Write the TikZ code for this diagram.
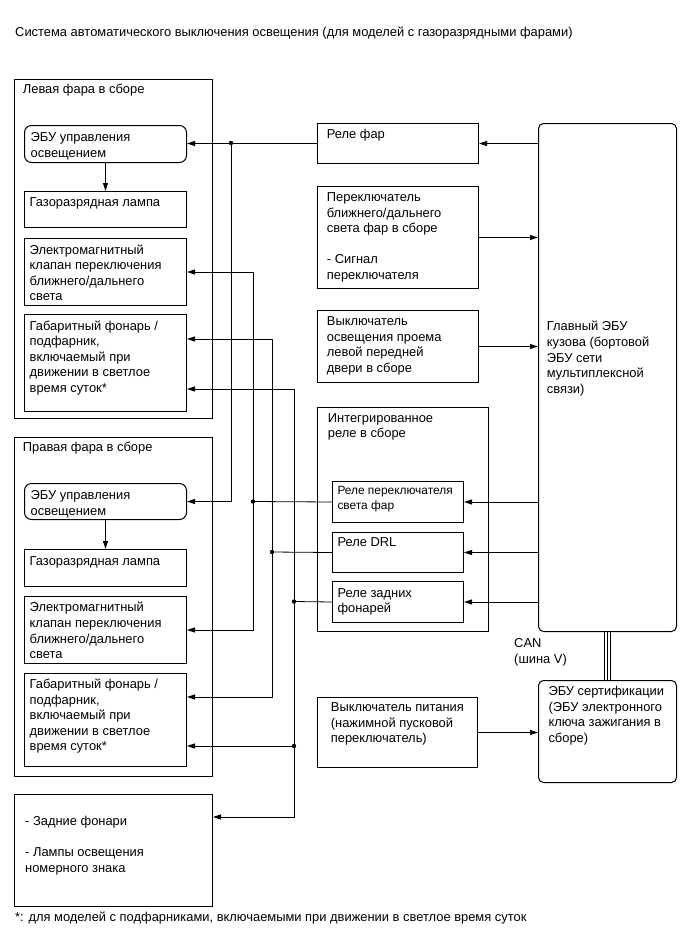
\documentclass[tikz,border=0pt]{standalone}
\usepackage{fontspec}
\setmainfont{Liberation Sans}
\usetikzlibrary{arrows.meta}
\newcommand\myfs{\fontsize{12.9}{15.6}\selectfont}
\newcommand\myfsm{\fontsize{11.9}{15.5}\selectfont}
\newcommand\mkbox[6]{\node[#1, minimum width={#4-#2}, minimum height={#5-#3}] (#6) at (#2,#3) {};}
\begin{document}
\begin{tikzpicture}[x=1pt,y=-1pt,
  box/.style={draw, line width=1pt, anchor=north west, inner sep=0pt},
  rbox/.style={box, rounded corners=7pt},
  mbox/.style={box, rounded corners=5pt},
  txt/.style={anchor=north west, inner sep=0pt, align=left, font=\myfs},
  stxt/.style={anchor=north west, inner sep=0pt, align=left, font=\myfsm},
  conn/.style={line width=0.8pt},
  arr/.style={conn, -{Triangle[length=8pt,width=5pt]}},
  jdot/.style={circle, fill, inner sep=0pt, minimum size=4.4pt},
  bus/.style={line width=1.1pt}]
\useasboundingbox (0,0) rectangle (689,951);

% title
\node[txt] (title) at (15,25.4) {\strut Система автоматического выключения освещения (для моделей с газоразрядными фарами)};

% left headlamp
\mkbox{box}{14}{79}{212}{418}{lh}
\node[txt] (lh-t) at (22.7,82) {\strut Левая фара в сборе};
\mkbox{rbox}{24}{125}{186}{162}{ecuL}
\node[txt] (ecuL-t) at (30.5,130.4) {\strut ЭБУ управления\\освещением};
\mkbox{box}{24}{191}{186}{227}{lampL}
\node[txt] (lampL-t) at (29.5,195.4) {\strut Газоразрядная лампа};
\mkbox{box}{24}{238}{186}{305}{solL}
\node[txt] (solL-t) at (29.5,243) {\strut Электромагнитный\\клапан переключения\\ближнего/дальнего\\света};
\mkbox{box}{24}{314}{186}{411}{posL}
\node[txt] (posL-t) at (29.5,319) {\strut Габаритный фонарь /\\подфарник,\\включаемый при\\движении в светлое\\время суток*};

% right headlamp
\mkbox{box}{14}{437}{212}{776}{rh}
\node[txt] (rh-t) at (22.7,440.4) {\strut Правая фара в сборе};
\mkbox{rbox}{24}{483}{186}{519}{ecuR}
\node[txt] (ecuR-t) at (30.5,488.5) {\strut ЭБУ управления\\освещением};
\mkbox{box}{24}{549}{186}{586}{lampR}
\node[txt] (lampR-t) at (29.5,554) {\strut Газоразрядная лампа};
\mkbox{box}{24}{596}{186}{663}{solR}
\node[txt] (solR-t) at (29.5,600.8) {\strut Электромагнитный\\клапан переключения\\ближнего/дальнего\\света};
\mkbox{box}{24}{673}{186}{766}{posR}
\node[txt] (posR-t) at (29.5,677.4) {\strut Габаритный фонарь /\\подфарник,\\включаемый при\\движении в светлое\\время суток*};

% rear lamps
\mkbox{box}{14}{794}{212}{906}{rear}
\node[txt] (rear-t) at (25,814.4) {\strut - Задние фонари\\\strut\\- Лампы освещения\\номерного знака};

% middle column
\mkbox{box}{317}{123}{478}{163}{relay}
\node[txt] (relay-t) at (326.7,127) {\strut Реле фар};
\mkbox{box}{317}{186}{478}{288}{dimsw}
\node[txt] (dimsw-t) at (326.7,190.4) {\strut Переключатель\\ближнего/дальнего\\света фар в сборе\\\strut\\- Сигнал\\переключателя};
\mkbox{box}{317}{310}{478}{382}{door}
\node[txt] (door-t) at (326.7,314.4) {\strut Выключатель\\освещения проема\\левой передней\\двери в сборе};
\mkbox{box}{317}{407}{488}{631}{intrel}
\node[txt] (intrel-t) at (327.7,411) {\strut Интегрированное\\реле в сборе};
\mkbox{box}{332}{481}{463}{522}{hlrel}
\node[stxt] (hlrel-t) at (337.3,483.4) {\strut Реле переключателя\\света фар};
\mkbox{box}{332}{532}{463}{572}{drl}
\node[txt] (drl-t) at (337.3,535.4) {\strut Реле DRL};
\mkbox{box}{332}{581}{463}{622}{tail}
\node[txt] (tail-t) at (337.3,586) {\strut Реле задних\\фонарей};
\mkbox{box}{317}{697}{477}{767}{pwr}
\node[txt] (pwr-t) at (330.7,700.4) {\strut Выключатель питания\\(нажимной пусковой\\переключатель)};

% right column
\mkbox{mbox}{538}{123}{676}{631}{main}
\node[txt] (main-t) at (546.7,319.8) {\strut Главный ЭБУ\\кузова (бортовой\\ЭБУ сети\\мультиплексной\\связи)};
\mkbox{mbox}{538}{680}{676}{782}{cert}
\node[txt] (cert-t) at (548.3,684.4) {\strut ЭБУ сертификации\\(ЭБУ электронного\\ключа зажигания в\\сборе)};
\node[txt] (can-t) at (514,636.4) {\strut CAN\\(шина V)};

% footnote
\node[txt] (foot) at (15,910.8) {\strut*: для моделей с подфарниками, включаемыми при движении в светлое время суток};

% CAN bus
\draw[bus] (main.south) -- (main.south |- cert.north);
\draw[bus] ([xshift=-3pt]main.south) -- ([xshift=-3pt]main.south |- cert.north);
\draw[bus] ([xshift=3pt]main.south) -- ([xshift=3pt]main.south |- cert.north);

% internal arrows
\draw[arr] (ecuL.south) -- (lampL.north);
\draw[arr] (ecuR.south) -- (lampR.north);

% main ECU connections
\draw[arr] (main.west |- relay.east) -- (relay.east);
\draw[arr] (dimsw.east) -- (dimsw.east -| main.west);
\draw[arr] (door.east) -- (door.east -| main.west);
\draw[arr] (main.west |- hlrel.east) -- (hlrel.east);
\draw[arr] (main.west |- drl.east) -- (drl.east);
\draw[arr] (main.west |- tail.east) -- (tail.east);
\draw[arr] (pwr.east) -- (pwr.east -| cert.west);

% junctions
\coordinate (j1) at (231,143);
\coordinate (j2) at (253,501.5);
\coordinate (j3) at (272,552);
\coordinate (j4) at (294,601.5);
\coordinate (j5) at (294,746);

\draw[arr] (relay.west) -- (relay.west -| ecuL.east);
\draw[arr] (j1) |- (ecuR.east);

\draw[conn] (hlrel.west) -- (j2);
\draw[arr] (j2) |- (solL.east);
\draw[arr] (j2) |- (solR.east);

\draw[conn] (drl.west) -- (j3);
\draw[arr] (j3) |- ([yshift=-25pt]posL.north east);
\draw[arr] (j3) |- ([yshift=-24pt]posR.north east);

\draw[conn] (tail.west) -- (j4);
\draw[arr] (j4) |- ([yshift=-75pt]posL.north east);
\draw[arr] (j5) -- (j5 -| posR.east);
\draw[arr] (j4) |- ([yshift=-23pt]rear.north east);

\foreach \j in {j1,j2,j3,j4,j5} \node[jdot] at (\j) {};
\end{tikzpicture}
\end{document}
